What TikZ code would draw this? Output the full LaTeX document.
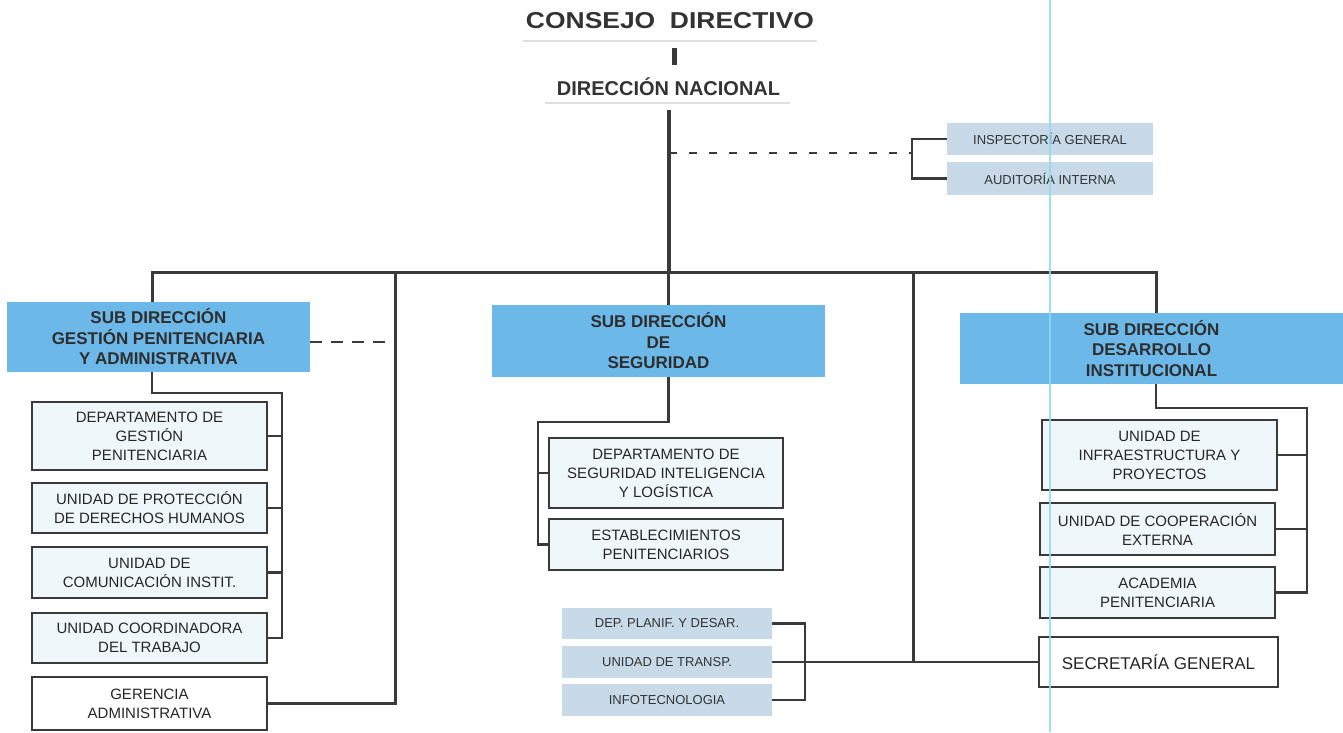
\documentclass[tikz,border=0pt]{standalone}
\usepackage{fontspec}
\setmainfont{Liberation Sans}
\definecolor{ln}{HTML}{3A3A3A}
\definecolor{hdr}{RGB}{108,184,232}
\definecolor{insp}{RGB}{200,218,232}
\definecolor{lite}{RGB}{240,247,251}
\tikzset{
  conn/.style={draw=ln, line width=3pt},
  thin conn/.style={draw=ln, line width=2.4pt},
  bx/.style={draw=ln, line width=2.4pt, fill=lite, inner sep=0pt, align=center, text=black!85, font=\fontsize{15}{19}\selectfont},
  hdrbox/.style={fill=hdr, inner sep=0pt, align=center, text=black!82, font=\bfseries\fontsize{17}{20.5}\selectfont},
  sbox/.style={fill=insp, inner sep=0pt, align=center, text=black!80, font=\fontsize{13}{15}\selectfont},
}
\begin{document}
\begin{tikzpicture}[x=1pt,y=-1pt]
\useasboundingbox (0,0) rectangle (1343,732);
\fill[white] (0,0) rectangle (1343,732);

% top
\node[anchor=base, inner sep=0pt, text=black!80, font=\bfseries\fontsize{23}{26}\selectfont\addfontfeature{FakeStretch=1.15}] (CD) at (670,28.5) {CONSEJO\ \ DIRECTIVO};
\node[anchor=base, inner sep=0pt, text=black!80, font=\bfseries\fontsize{20}{24}\selectfont] (DN) at (668.5,95.5) {DIRECCIÓN NACIONAL};
\draw[gray!25, line width=2pt] (523,41) -- (817,41);
\draw[gray!25, line width=2pt] (545,103) -- (790,103);
\draw[draw=ln, line width=4.5pt, shorten <=19.5pt, shorten >=12.5pt] ([xshift=4.5pt]CD.south) -- ([xshift=4.5pt]CD.south |- DN.north);

% inspectoria
\node[sbox, minimum width=206pt, minimum height=32pt] (IG) at (1050,139) {INSPECTORÍA GENERAL};
\node[sbox, minimum width=206pt, minimum height=33pt] (AI) at (1050,178.5) {AUDITORÍA INTERNA};
\coordinate (ib) at (912,153);

% headers
\node[hdrbox, minimum width=303pt, minimum height=70pt] (G) at (158.5,337) {SUB DIRECCIÓN\\GESTIÓN PENITENCIARIA\\Y ADMINISTRATIVA};
\node[hdrbox, minimum width=333pt, minimum height=72pt] (S) at (658.5,341) {SUB DIRECCIÓN\\DE\\SEGURIDAD};
\node[hdrbox, minimum width=383pt, minimum height=71pt] (D) at (1151.5,348.5) {SUB DIRECCIÓN\\DESARROLLO\\INSTITUCIONAL};

% left column
\node[bx, minimum width=235pt, minimum height=68pt] (B1) at (149.5,436) {DEPARTAMENTO DE\\GESTIÓN\\PENITENCIARIA};
\node[bx, minimum width=235pt, minimum height=50pt] (B2) at (149.5,508) {UNIDAD DE PROTECCIÓN\\DE DERECHOS HUMANOS};
\node[bx, minimum width=235pt, minimum height=51pt] (B3) at (149.5,572.5) {UNIDAD DE\\COMUNICACIÓN INSTIT.};
\node[bx, minimum width=235pt, minimum height=50pt] (B4) at (149.5,638) {UNIDAD COORDINADORA\\DEL TRABAJO};
\node[bx, fill=white, minimum width=235pt, minimum height=53pt] (B5) at (149.5,703.5) {GERENCIA\\ADMINISTRATIVA};

% middle column
\node[bx, minimum width=234pt, minimum height=70pt] (E1) at (666,473) {DEPARTAMENTO DE\\SEGURIDAD INTELIGENCIA\\Y LOGÍSTICA};
\node[bx, minimum width=234pt, minimum height=51pt] (E2) at (666,544.5) {ESTABLECIMIENTOS\\PENITENCIARIOS};

\node[sbox, minimum width=210pt, minimum height=31pt] (T1) at (667,623.5) {DEP. PLANIF. Y DESAR.};
\node[sbox, minimum width=210pt, minimum height=32pt] (T2) at (667,662) {UNIDAD DE TRANSP.};
\node[sbox, minimum width=210pt, minimum height=32pt] (T3) at (667,700) {INFOTECNOLOGIA};

% right column
\node[bx, minimum width=235pt, minimum height=70pt] (R1) at (1159.5,455) {UNIDAD DE\\INFRAESTRUCTURA Y\\PROYECTOS};
\node[bx, minimum width=235pt, minimum height=52pt] (R2) at (1157.5,529) {UNIDAD DE COOPERACIÓN\\EXTERNA};
\node[bx, minimum width=235pt, minimum height=51pt] (R3) at (1157.5,592.5) {ACADEMIA\\PENITENCIARIA};
\node[bx, fill=white, minimum width=239pt, minimum height=50pt, font=\fontsize{17}{20}\selectfont] (SG) at (1158.5,662) {SECRETARÍA GENERAL};

% main trunk and bar
\coordinate (barL) at (152,272);
\coordinate (barR) at (1156,272);
\coordinate (v1) at (395,272);
\coordinate (v2) at (913,272);
\draw[draw=ln, line width=4pt, shorten <=14pt] (DN.south) -- (DN.south |- barL);
\draw[conn] (DN.south |- barL) -- (DN.south |- S.north);
\draw[conn] ([xshift=-6.5pt]G.north) -- (barL) -- (barR) -- (barR |- D.north);
\draw[conn] (v1) |- (B5.east);
\draw[conn] (v2) -- (v2 |- SG.west);

% inspectoria bracket
\draw[draw=ln, line width=2.4pt, dash pattern=on 8pt off 12pt] (DN.south |- ib) -- (ib);
\draw[thin conn] (IG.west) -| (ib) |- (AI.west);

% left dashed
\coordinate (gd) at (385,342);
\draw[draw=ln, line width=2.4pt, dash pattern=on 12pt off 9pt] (G.east |- gd) -- (gd);

% left bracket
\coordinate (l1) at (282,393);
\draw[thin conn] ([xshift=-6.5pt]G.south) |- (l1) |- (B4.east);
\draw[thin conn] (l1 |- B1.east) -- (B1.east);
\draw[thin conn] (l1 |- B2.east) -- (B2.east);
\draw[thin conn] (l1 |- B3.east) -- (B3.east);

% middle bracket
\coordinate (m1) at (538,422);
\draw[thin conn] (DN.south |- S.south) -- (DN.south |- m1) -- (m1) |- (E2.west);
\draw[thin conn] (m1 |- E1.west) -- (E1.west);

% bottom centre bracket
\coordinate (t1) at (805,623.5);
\draw[thin conn] (T1.east) -- (t1) |- (T3.east);
\draw[thin conn] (T2.east) -- (SG.west);

% right bracket
\coordinate (r1) at (1307,408);
\draw[thin conn] (barR |- D.south) -- (barR |- r1) -- (r1) |- (R3.east);
\draw[thin conn] (r1 |- R1.east) -- (R1.east);
\draw[thin conn] (r1 |- R2.east) -- (R2.east);

% scanner streak
\draw[cyan!45!white, line width=2.2pt, opacity=0.85] (1050,0) -- (1050,732);
\end{tikzpicture}
\end{document}
